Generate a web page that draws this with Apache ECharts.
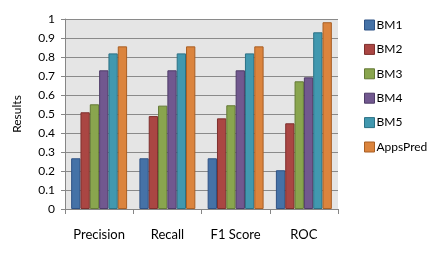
<!DOCTYPE html>
<html><head><meta charset="utf-8">
<script src="https://cdn.jsdelivr.net/npm/echarts@6/dist/echarts.min.js"></script>
<style>html,body{margin:0;padding:0;background:#fff}#c{width:434px;height:257px}</style>
</head><body><div id="c"></div>
<script>
var categories = ['Precision', 'Recall', 'F1 Score', 'ROC'];
var seriesNames = ['BM1', 'BM2', 'BM3', 'BM4', 'BM5', 'AppsPred'];
var BM1 = [0.267, 0.267, 0.267, 0.204];
var BM2 = [0.509, 0.489, 0.477, 0.451];
var BM3 = [0.551, 0.544, 0.546, 0.672];
var BM4 = [0.730, 0.730, 0.730, 0.693];
var BM5 = [0.819, 0.819, 0.819, 0.930];
var AppsPred = [0.856, 0.856, 0.856, 0.983];
var values = [BM1, BM2, BM3, BM4, BM5, AppsPred];
var fills = ['#4572A7', '#AA4643', '#89A54E', '#71588F', '#4198AF', '#DB843D'];
var borders = ['#2f5285', '#7d2f2d', '#647a36', '#4f3c68', '#2b7185', '#a85f25'];
var FONT = 'Lato, "Open Sans", sans-serif';

var chart = echarts.init(document.getElementById('c'), null, {renderer: 'canvas'});
var series = seriesNames.map(function (n, i) {
  return {
    name: n, type: 'bar', data: values[i], barGap: '0%', barCategoryGap: '18%',
    itemStyle: {color: fills[i], borderColor: borders[i], borderWidth: 1}
  };
});
chart.setOption({
  animation: false,
  textStyle: {fontFamily: FONT},
  grid: {left: 65, right: 96, top: 19, bottom: 48, show: true, backgroundColor: '#e5e5e5', borderWidth: 0},
  legend: {
    orient: 'vertical', left: 359, top: 14, itemWidth: 10, itemHeight: 10, itemGap: 12.4,
    icon: 'rect',
    textStyle: {fontSize: 12, color: '#000', fontFamily: FONT, padding: [0, 0, 0, -3]},
    data: seriesNames.map(function (n, i) {
      return {name: n, itemStyle: {color: fills[i], borderColor: borders[i], borderWidth: 1}};
    })
  },
  xAxis: {
    type: 'category', data: categories,
    axisLine: {show: true, lineStyle: {color: '#868686', width: 1}},
    axisTick: {show: true, length: 5, lineStyle: {color: '#868686'}},
    axisLabel: {fontSize: 13, color: '#000', margin: 19, fontFamily: FONT}
  },
  yAxis: {
    type: 'value', min: 0, max: 1, interval: 0.1,
    name: 'Results', nameLocation: 'middle', nameGap: 42, nameRotate: 90,
    nameTextStyle: {fontSize: 12, color: '#000', fontFamily: FONT},
    axisLine: {show: true, lineStyle: {color: '#868686', width: 1}},
    axisTick: {show: true, length: 4, lineStyle: {color: '#868686'}},
    axisLabel: {fontSize: 12, color: '#000', margin: 10, fontFamily: FONT,
      formatter: function (v) { return String(Math.round(v * 10) / 10); }},
    splitLine: {show: true, lineStyle: {color: '#8a8a8a', width: 1}}
  },
  series: series
});
</script></body></html>
